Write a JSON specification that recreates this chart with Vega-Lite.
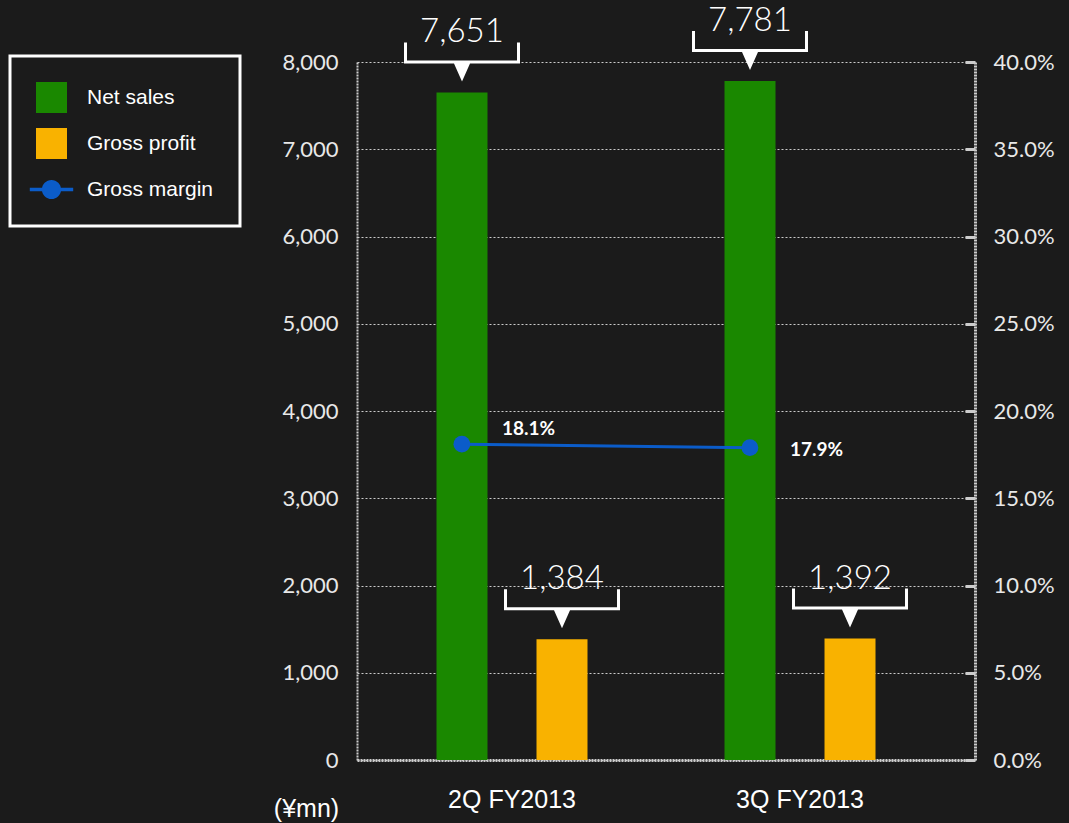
{
  "$schema": "https://vega.github.io/schema/vega-lite/v6.json",
  "width": 618,
  "height": 698,
  "autosize": {"type": "none"},
  "padding": {"left": 357, "top": 62, "right": 94, "bottom": 63},
  "background": "#1b1b1b",
  "config": {
    "view": {"stroke": null},
    "font": "Lato",
    "legend": {
      "orient": "none",
      "legendX": -347,
      "legendY": -6,
      "strokeColor": "white",
      "strokeWidth": 3,
      "padding": 26,
      "symbolSize": 961,
      "labelFontSize": 21,
      "labelFont": "Liberation Sans",
      "labelColor": "white",
      "labelOffset": 20,
      "rowPadding": 15,
      "symbolStrokeWidth": 0
    }
  },
  "datasets": {
    "bars": [
      {"period": "2Q FY2013", "series": "Net sales", "value": 7651},
      {"period": "2Q FY2013", "series": "Gross profit", "value": 1384},
      {"period": "3Q FY2013", "series": "Net sales", "value": 7781},
      {"period": "3Q FY2013", "series": "Gross profit", "value": 1392}
    ],
    "margin": [
      {"period": "2Q FY2013", "series": "Gross margin", "margin": 0.181},
      {"period": "3Q FY2013", "series": "Gross margin", "margin": 0.179}
    ]
  },
  "layer": [
    {
      "data": {"name": "bars"},
      "encoding": {
        "x": {
          "field": "period",
          "type": "nominal",
          "scale": {"paddingInner": 0, "paddingOuter": 0.0729, "align": 0.262},
          "axis": {
            "title": null,
            "labelAngle": 0,
            "labelFont": "Liberation Sans",
            "labelFontSize": 25,
            "labelColor": "white",
            "labelBaseline": "alphabetic",
            "labelPadding": 47,
            "ticks": false,
            "grid": false,
            "domainColor": "#cccccc",
            "domainDash": [2, 1],
            "domainWidth": 3
          }
        },
        "xOffset": {
          "field": "series",
          "type": "nominal",
          "sort": ["Net sales", "Gross profit"],
          "scale": {"paddingInner": 0.49, "paddingOuter": 0.685}
        },
        "y": {
          "field": "value",
          "type": "quantitative",
          "scale": {"domain": [0, 8000], "nice": false},
          "axis": {
            "values": [0, 1000, 2000, 3000, 4000, 5000, 6000, 7000, 8000],
            "format": ",.0f",
            "labelFont": "Lato",
            "labelFontSize": 22,
            "labelColor": "#e8e8e8",
            "labelPadding": 19,
            "ticks": false,
            "domainColor": "#cccccc",
            "domainDash": [2, 1],
            "domainWidth": 2,
            "gridColor": "#cccccc",
            "gridDash": [2, 2],
            "gridWidth": 1,
            "title": "(¥mn)",
            "titleAngle": 0,
            "titleX": -51,
            "titleY": 754,
            "titleAlign": "center",
            "titleBaseline": "alphabetic",
            "titleFont": "Liberation Sans",
            "titleFontSize": 25,
            "titleFontWeight": "normal",
            "titleColor": "white"
          }
        }
      },
      "layer": [
        {
          "mark": {"type": "bar"},
          "encoding": {
            "color": {
              "field": "series",
              "type": "nominal",
              "scale": {
                "domain": ["Net sales", "Gross profit", "Gross margin"],
                "range": ["#1a8800", "#f9b200", "#0b5cc9"]
              },
              "legend": {
                "title": null,
                "encode": {
                  "symbols": {
                    "update": {
                      "shape": {"signal": "datum.value === 'Gross margin' ? 'M-1.4,-0.12L1.4,-0.12L1.4,0.12L-1.4,0.12Z M-0.62,0A0.62,0.62 0 1,1 0.62,0A0.62,0.62 0 1,1 -0.62,0Z' : 'square'"},
                      "fill": {"signal": "scale('color', datum.value)"},
                      "stroke": {"value": "transparent"},
                      "opacity": {"value": 1},
                      "fillOpacity": {"value": 1}
                    }
                  }
                }
              }
            }
          }
        },
        {
          "mark": {
            "type": "point",
            "shape": "M-58,-50L-55,-50L-55,-32L55,-32L55,-50L58,-50L58,-29L8,-29L0,-11L-8,-29L-58,-29Z",
            "size": 4,
            "filled": true,
            "color": "white",
            "opacity": 1,
            "strokeWidth": 0
          }
        },
        {
          "mark": {
            "type": "text",
            "dy": -50,
            "baseline": "alphabetic",
            "fontSize": 33,
            "font": "Lato",
            "fontWeight": 300,
            "color": "white"
          },
          "encoding": {"text": {"field": "value", "type": "quantitative", "format": ","}}
        }
      ]
    },
    {
      "data": {"name": "margin"},
      "encoding": {
        "x": {"field": "period", "type": "nominal", "bandPosition": 0.326},
        "y": {
          "field": "margin",
          "type": "quantitative",
          "scale": {"domain": [0, 0.4], "nice": false},
          "axis": {
            "orient": "right",
            "values": [0, 0.05, 0.1, 0.15, 0.2, 0.25, 0.3, 0.35, 0.4],
            "format": ".1%",
            "labelFont": "Lato",
            "labelFontSize": 22,
            "labelColor": "#e8e8e8",
            "labelPadding": 28,
            "tickSize": -10,
            "tickWidth": 3,
            "tickColor": "#cccccc",
            "domainColor": "#cccccc",
            "domainDash": [2, 1],
            "domainWidth": 3,
            "grid": false,
            "title": null
          }
        }
      },
      "layer": [
        {
          "mark": {"type": "line", "strokeWidth": 3},
          "encoding": {"color": {"field": "series", "type": "nominal"}}
        },
        {
          "mark": {"type": "point", "filled": true, "size": 283, "opacity": 1},
          "encoding": {"color": {"field": "series", "type": "nominal"}}
        },
        {
          "transform": [{"filter": "datum.period === '2Q FY2013'"}],
          "mark": {"type": "text", "align": "left", "dx": 40, "dy": -9, "baseline": "alphabetic", "font": "Lato", "fontWeight": "bold", "fontSize": 19, "color": "white"},
          "encoding": {"text": {"field": "margin", "type": "quantitative", "format": ".1%"}}
        },
        {
          "transform": [{"filter": "datum.period === '3Q FY2013'"}],
          "mark": {"type": "text", "align": "left", "dx": 40, "dy": 8, "baseline": "alphabetic", "font": "Lato", "fontWeight": "bold", "fontSize": 19, "color": "white"},
          "encoding": {"text": {"field": "margin", "type": "quantitative", "format": ".1%"}}
        }
      ]
    }
  ],
  "resolve": {"scale": {"y": "independent"}}
}
